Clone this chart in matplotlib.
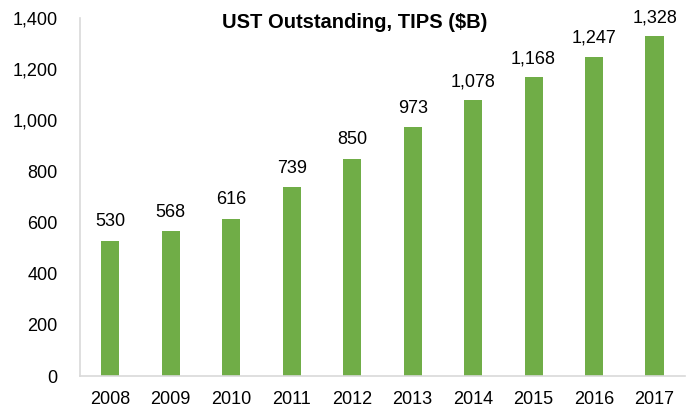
import matplotlib
matplotlib.use("Agg")
import matplotlib.pyplot as plt

# UST outstanding TIPS, $B
years = ["2008", "2009", "2010", "2011", "2012", "2013", "2014", "2015", "2016", "2017"]
values = [530, 568, 616, 739, 850, 973, 1078, 1168, 1247, 1328]

plt.rcParams["font.family"] = ["Liberation Sans", "DejaVu Sans"]

fig = plt.figure(figsize=(6.92, 4.11), dpi=100)
ax = fig.add_axes([0.1156, 0.085, 0.874, 0.871])

x = range(len(years))
bars = ax.bar(x, values, width=0.3, color="#70AD47")
for b, v in zip(bars, values):
	ax.text(b.get_x() + b.get_width() / 2, v + 40, "{:,}".format(v),
		ha="center", va="bottom", fontsize=13, color="black")

ax.set_xlim(-0.5, len(years) - 0.5)
ax.set_ylim(0, 1400)
ax.set_yticks(range(0, 1401, 200))
ax.set_yticklabels(["{:,}".format(t) for t in range(0, 1401, 200)])
ax.set_xticks(list(x))
ax.set_xticklabels(years)
ax.tick_params(axis="both", length=0, labelsize=13, colors="black")
ax.tick_params(axis="y", pad=16)
ax.tick_params(axis="x", pad=11)

for s in ["top", "right"]:
	ax.spines[s].set_visible(False)
for s in ["left", "bottom"]:
	ax.spines[s].set_color("#D9D9D9")
	ax.spines[s].set_linewidth(1.2)

fig.text(0.512, 0.968, "UST Outstanding, TIPS ($B)",
	ha="center", va="top", fontsize=14.5, fontweight="bold")

fig.savefig("out.png", dpi=100)
